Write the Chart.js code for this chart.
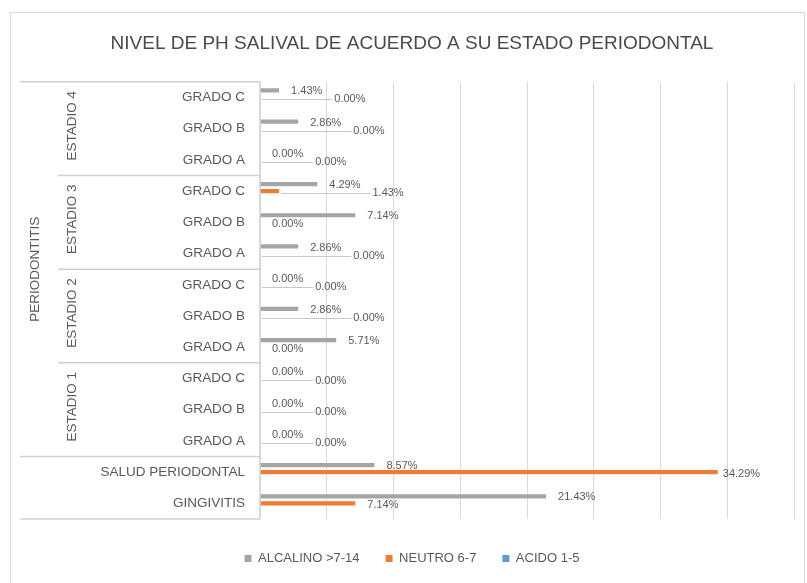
<!DOCTYPE html>
<html>
<head>
<meta charset="utf-8">
<script src="https://cdn.jsdelivr.net/npm/chart.js@4/dist/chart.umd.min.js"></script>
<style>
  html, body { margin: 0; padding: 0; background: #fff; }
  #wrap { width: 807px; height: 583px; }
</style>
</head>
<body>
<div id="wrap"><canvas id="phChart" width="807" height="583"></canvas></div>
<script>
// rows top to bottom
const categories = [
  'GRADO C', 'GRADO B', 'GRADO A',
  'GRADO C', 'GRADO B', 'GRADO A',
  'GRADO C', 'GRADO B', 'GRADO A',
  'GRADO C', 'GRADO B', 'GRADO A',
  'SALUD PERIODONTAL', 'GINGIVITIS'
];
const estadios = ['ESTADIO 4', 'ESTADIO 3', 'ESTADIO 2', 'ESTADIO 1'];
const grupo = 'PERIODONTITIS';

const alcalino = [1.43, 2.86, 0, 4.29, 7.14, 2.86, 0, 2.86, 5.71, 0, 0, 0, 8.57, 21.43];
const neutro   = [0, 0, 0, 1.43, 0, 0, 0, 0, 0, 0, 0, 0, 34.29, 7.14];
const acido    = [0, 0, 0, 0, 0, 0, 0, 0, 0, 0, 0, 0, 0, 0];

const seriesNames = ['ALCALINO >7-14', 'NEUTRO 6-7', 'ACIDO 1-5'];
const title = 'NIVEL DE PH SALIVAL DE ACUERDO A SU ESTADO PERIODONTAL';

const FONT = '"Liberation Sans", Arial, sans-serif';
const TEXT = '#595959';
const LINE = '#d0d0d0';

const fmt = v => v.toFixed(2) + '%';

const chartFrame = {
  id: 'chartFrame',
  beforeDraw(chart) {
    const { ctx, width, height } = chart;
    ctx.save();
    ctx.fillStyle = '#fff';
    ctx.fillRect(0, 0, width, height);
    ctx.strokeStyle = '#d9d9d9';
    ctx.lineWidth = 1;
    ctx.strokeRect(10.5, 12.5, width - 13, height);
    ctx.restore();
  }
};

// multi-level category axis (estadio / periodontitis)
const multiLevelAxis = {
  id: 'multiLevelAxis',
  afterDraw(chart) {
    const { ctx, chartArea } = chart;
    const y = chart.scales.y;
    const rowH = y.height / categories.length;
    const edge = i => y.getPixelForValue(i) - rowH / 2;
    const ax = chartArea.left;

    const line = (x1, y1, x2, y2) => {
      ctx.beginPath();
      ctx.moveTo(x1, y1);
      ctx.lineTo(x2, y2);
      ctx.stroke();
    };

    ctx.save();
    ctx.strokeStyle = LINE;
    ctx.lineWidth = 1.5;
    line(ax, y.top, ax, y.bottom);
    line(20, y.top, ax, y.top);
    line(20, y.bottom, ax, y.bottom);
    line(20, edge(12), ax, edge(12));
    for (let g = 1; g < estadios.length; g++) {
      line(58, edge(g * 3), ax, edge(g * 3));
    }

    ctx.fillStyle = TEXT;
    ctx.font = '13.5px ' + FONT;
    ctx.textAlign = 'center';
    ctx.textBaseline = 'middle';
    estadios.forEach((name, g) => {
      const cy = (edge(g * 3) + edge(g * 3 + 3)) / 2 - 3;
      ctx.save();
      ctx.translate(72, cy);
      ctx.rotate(-Math.PI / 2);
      ctx.fillText(name, 0, 0);
      ctx.restore();
    });
    ctx.save();
    ctx.translate(35, (edge(0) + edge(12)) / 2);
    ctx.rotate(-Math.PI / 2);
    ctx.fillText(grupo, 0, 0);
    ctx.restore();
    ctx.restore();
  }
};

// value labels, placed roughly like the Excel original
const valueLabels = {
  id: 'valueLabels',
  afterDatasetsDraw(chart) {
    const { ctx } = chart;
    const gray = chart.getDatasetMeta(0).data;
    const orng = chart.getDatasetMeta(1).data;
    ctx.save();
    ctx.font = '11px ' + FONT;
    ctx.fillStyle = TEXT;
    ctx.textBaseline = 'middle';
    ctx.textAlign = 'left';
    ctx.strokeStyle = '#c8c8c8';
    ctx.lineWidth = 1;

    categories.forEach((c, i) => {
      const gTxt = fmt(alcalino[i]);
      const gx = gray[i].x + 12;
      const gy = gray[i].y + 1;
      const gw = ctx.measureText(gTxt).width;
      ctx.fillText(gTxt, gx, gy);

      const oTxt = fmt(neutro[i]);
      const ow = ctx.measureText(oTxt).width;
      let ox = orng[i].x + (neutro[i] >= alcalino[i] ? 5 : 12);
      if (ox < gx + gw + 10 && ox + ow > gx - 10) ox = gx + gw + 12;
      const oy = orng[i].y + 2;
      if (ox - orng[i].x > 15) {
        ctx.beginPath();
        ctx.moveTo(orng[i].x + 2, Math.round(oy) + 0.5);
        ctx.lineTo(ox - 2, Math.round(oy) + 0.5);
        ctx.stroke();
      }
      ctx.fillText(oTxt, ox, oy);
    });
    ctx.restore();
  }
};

new Chart(document.getElementById('phChart'), {
  type: 'bar',
  plugins: [chartFrame, multiLevelAxis, valueLabels],
  data: {
    labels: categories,
    datasets: [
      { label: seriesNames[0], data: alcalino, backgroundColor: '#a5a5a5' },
      { label: seriesNames[1], data: neutro, backgroundColor: '#ed7d31' },
      { label: seriesNames[2], data: acido, backgroundColor: '#5b9bd5' }
    ]
  },
  options: {
    indexAxis: 'y',
    responsive: false,
    animation: false,
    events: [],
    categoryPercentage: 0.68,
    barPercentage: 0.6,
    layout: { padding: { top: 10, left: 30, right: 13, bottom: 8 } },
    scales: {
      x: {
        min: 0,
        max: 40,
        ticks: { display: false, stepSize: 5 },
        grid: { color: '#d9d9d9', lineWidth: 1, drawTicks: false },
        border: { display: false },
        afterFit(scale) { scale.height = 7; }
      },
      y: {
        ticks: { color: TEXT, font: { family: FONT, size: 13.5 }, padding: 15, autoSkip: false },
        grid: { display: false, drawTicks: false },
        border: { display: false },
        afterFit(scale) { scale.width = 230; }
      }
    },
    plugins: {
      title: {
        display: true,
        text: title,
        color: '#4a4a4a',
        font: { family: FONT, size: 19, weight: 'normal' },
        padding: { top: 22, bottom: 27 }
      },
      legend: {
        position: 'bottom',
        labels: {
          boxWidth: 7,
          boxHeight: 7,
          padding: 26,
          color: TEXT,
          font: { family: FONT, size: 13 }
        }
      },
      tooltip: { enabled: false }
    }
  }
});
</script>
</body>
</html>
